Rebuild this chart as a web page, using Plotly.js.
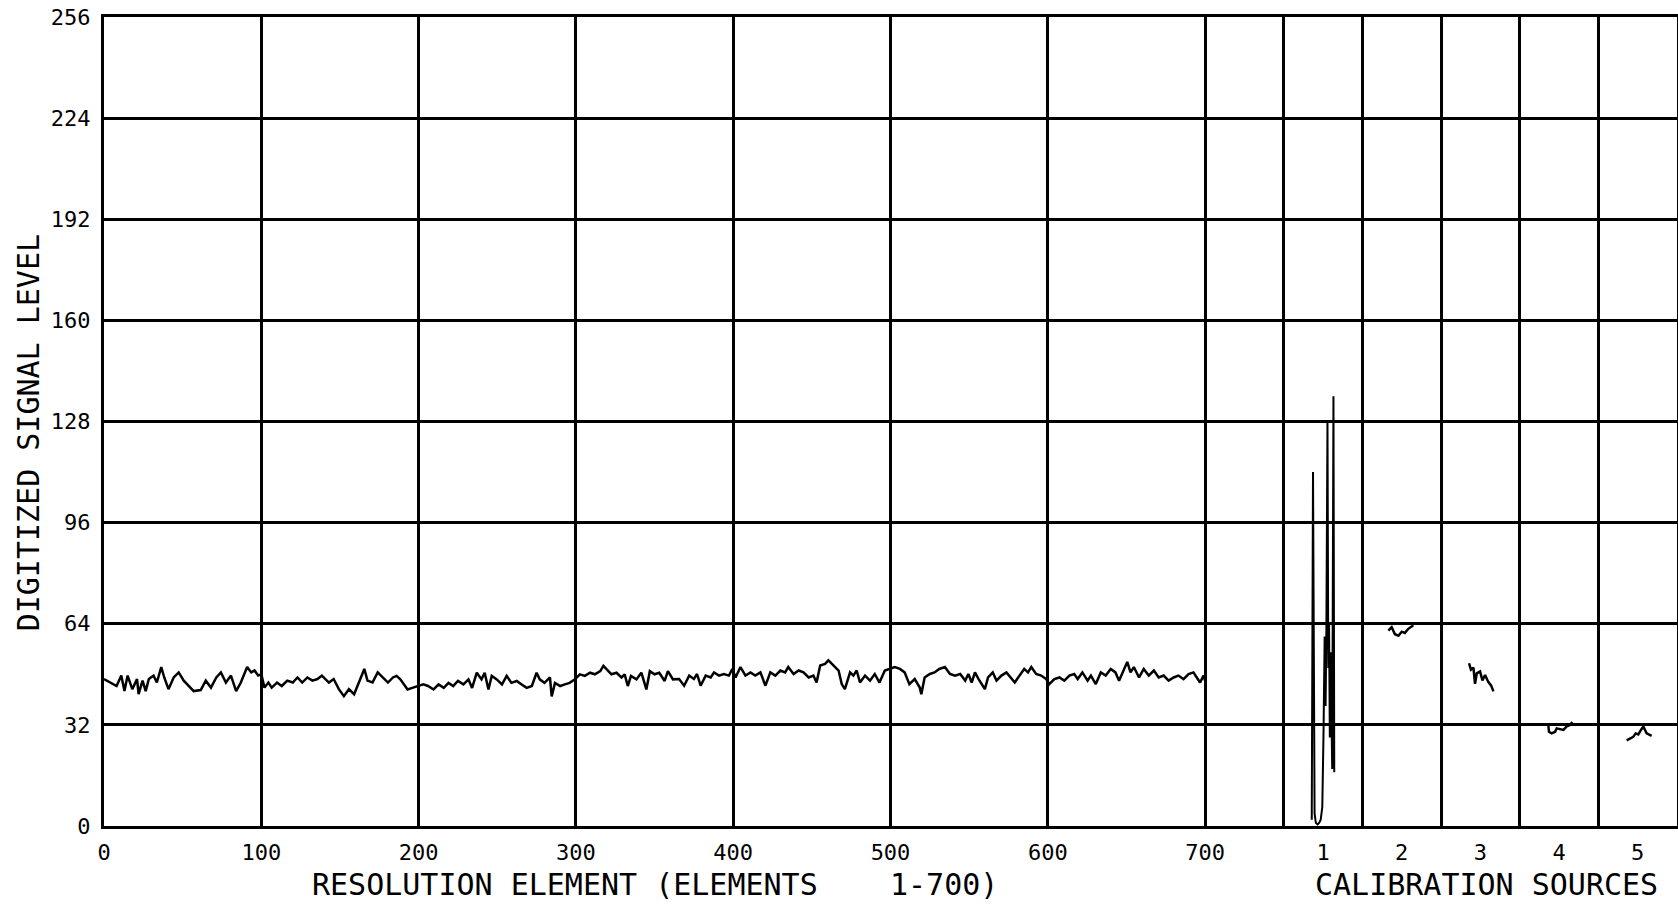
<!DOCTYPE html>
<html>
<head>
<meta charset="utf-8">
<script src="https://cdn.plot.ly/plotly-3.0.1.min.js"></script>
<style>html,body{margin:0;padding:0;background:#fff;}#chart{width:1678px;height:906px;}</style>
</head>
<body>
<div id="chart"></div>
<script>
// ---- data ----
const elementX = [0,3.6,8,11,13,15,18,21,22,24.5,26.5,28.5,31.5,33.6,36.4,38.3,41,44.3,47.5,50.7,55,57,61.5,64.7,68,71.4,74.3,77.5,80.7,84,87,91,93.6,95.7,98,100,102,104.5,106.6,110,113,116.5,120,123,126,129.3,132.5,135.7,138.5,143,146,149.3,152.5,155.7,159,162,165.5,167.5,170.7,174,177.3,180.5,183.7,
186,188.4,190.5,193,196,200,203,206,209.5,212.7,216,219,222,225,228.5,231.7,234,237,240,242,244.4,246.5,249.7,253,256,259,262.4,265.5,268.7,272,275,277,280,283.5,284.6,286.7,290,293,296,299.4,302.5,305.7,309,312,315.5,317.5,319.5,322.6,325.8,329,331,333,335,338.5,341.6,344.8,347,350,353,356.4,358.5,361.7,
365.6,368.8,372,375,377,379.3,382.5,385.7,387.8,391,394,397.3,399.4,401.5,404.6,407.8,411,414,417.3,420.5,423.6,426.8,430,433,435,438.4,441.6,444.7,448,451,453,455.3,458.4,460.5,463.7,467,469,471,474.3,476.4,478.5,480.6,483.8,487,490,493,496.4,499.6,502.7,506,509,512,515.4,518.6,519.6,521.7,525,528,531,534.6,537.8,541,544.3,547.5,
549.5,551.6,553.7,556,558,560,562,565,567.4,570.5,573.7,576.8,579,582,585,587.4,589.5,592.6,595.8,599,601,604.2,607.4,610.5,613.7,616.8,619,622,625.3,627.4,630.5,633.7,636.8,640,643,645.3,648.4,650.5,652.6,654.7,658,661,664.2,667.4,670.5,673.7,676.8,680,683,686.3,689.5,692.6,694.7,696.8,699,700];
const signalLevel = [46.5,45.4,44.3,47.6,42.7,47.6,43.3,46.5,41.7,46,42.7,46.5,47.6,45.4,50.3,47,43.3,47,48.6,46,43.8,42.7,43,46,43.8,47,48.6,45.4,47.6,42.7,45.4,50.3,48.6,49.2,47.6,48,43.8,45.4,43.8,45.4,44.3,46,45.4,47,45.4,47,46,46.5,47.6,45.4,46.5,43.3,41.1,43.3,41.7,45.4,49.7,46,45.4,48.6,47,45.4,47,
47.5,46.4,44.8,43.2,43.7,44.3,44.8,44.3,43.2,44.8,43.7,45.3,44.3,45.9,44.8,46.4,43.7,48.5,46.4,48.5,43.2,47.5,46.4,44.8,47.5,45.3,45.9,44.8,43.7,44.3,48.5,46.4,45.3,47,41,45.3,44.3,44.8,45.3,46.4,48,47.5,48.5,48,49,50.7,49.6,48,48.5,47,48,44.3,47.5,46.4,48.5,43.2,49,48,48.5,45.9,49,46.4,
46.5,44.4,47.6,46.5,48.1,44.4,47.6,47,48.6,47.6,48.1,47.6,49.7,47,50.3,47.6,48.6,47.6,48.6,44.4,48.6,47.6,49.2,48.6,50.3,48.1,49.2,48.6,47,47.6,45.4,50.8,51.3,52.4,50.8,49.2,44.9,43.3,48.6,47.6,49.2,45.4,47.6,46,48.1,45.4,49.2,49.7,50.3,49.7,48.6,44.9,46.5,43.8,41.7,47,48.1,48.6,49.7,50.3,48.1,47.6,48.1,46,
48.1,45.4,48.6,46.5,44.9,43.3,47,48.6,46,47.6,48.6,46.5,45.4,47.6,49.7,48.6,50.3,48.1,47.6,46.5,44.9,46.5,47,46,47.6,48.1,46.5,48.6,46,47.6,44.9,48.6,47.6,49.7,48.6,46,49.7,51.9,48.6,50.3,47,49.7,47.6,49.2,47,47.6,46,47,47.6,46.5,48.1,48.6,47,45.4,47.6,46];

const source1X = [767.8,768.6,769.6,770.4,771.5,772.5,773.5,774.5,775.3,776.0,776.6,777.1,777.8,778.3,778.8,779.3,779.8,780.3,780.8,781.6,782.1];
const source1Y = [2,112,4,1,0.5,1,2,6,30,60,38,62,128,50,64,28,55,34,18,136,17];
const source2X = [816.5,818.6,820.7,822.9,825,827,829.2,831.3,832.4];
const source2Y = [61.8,62.9,60.7,60.2,61.5,61.1,62.4,63.2,63.5];
const source3X = [867.8,869,870.6,871.6,872.7,874.8,876.3,878,880,881.8,883.3];
const source3Y = [51.5,49.5,50.1,45,48.3,48.9,46.1,47.8,45.6,44.5,42.6];
const source4X = [918.2,918.6,920.3,922.5,923.5,925.6,927.8,929.9,932,933.5];
const source4Y = [32,29.8,29.3,29.8,30.9,30.6,30.4,31.5,32,32.9];
const source5X = [968,970.1,972.2,973.7,975.4,977.1,978.6,980.7,982.8,983.9];
const source5Y = [27.1,27.7,28.2,29.3,29,30.4,31.5,29.3,28.7,28.5];

const xTickVals = [0,100,200,300,400,500,600,700,775,825,875,925,975];
const xTickText = ["0","100","200","300","400","500","600","700","1","2","3","4","5"];
const xGridVals = [100,200,300,400,500,600,700,750,800,850,900,950];
const yTickVals = [0,32,64,96,128,160,192,224,256];

const yTitle = "DIGITIZED SIGNAL LEVEL";
const xTitleMain = "RESOLUTION ELEMENT (ELEMENTS\u00a0\u00a0\u00a0\u00a01-700)";
const xTitleCal = "CALIBRATION SOURCES";

// ---- chart ----
const FONT = "DejaVu Sans Mono, monospace";
const line = {color: "#000", width: 2.5};
const traces = [
  {x: elementX, y: signalLevel, type: "scatter", mode: "lines", line: line, hoverinfo: "skip"},
  {x: source1X, y: source1Y, xaxis: "x2", type: "scatter", mode: "lines", line: {color: "#000", width: 2}, hoverinfo: "skip"},
  {x: source2X, y: source2Y, xaxis: "x2", type: "scatter", mode: "lines", line: line, hoverinfo: "skip"},
  {x: source3X, y: source3Y, xaxis: "x2", type: "scatter", mode: "lines", line: line, hoverinfo: "skip"},
  {x: source4X, y: source4Y, xaxis: "x2", type: "scatter", mode: "lines", line: line, hoverinfo: "skip"},
  {x: source5X, y: source5Y, xaxis: "x2", type: "scatter", mode: "lines", line: line, hoverinfo: "skip"}
];

const layout = {
  width: 1678, height: 906,
  margin: {l: 104, r: 1, t: 17, b: 80},
  paper_bgcolor: "#fff", plot_bgcolor: "#fff",
  showlegend: false,
  font: {family: FONT, color: "#000"},
  xaxis: {
    range: [0, 1000], tickmode: "array", tickvals: xTickVals, ticktext: xTickText,
    showgrid: false, zeroline: false, showline: true, mirror: true,
    linecolor: "#000", linewidth: 3, ticks: "",
    ticklabelstandoff: 5,
    tickfont: {family: FONT, size: 22, color: "#000"}
  },
  xaxis2: {
    overlaying: "x", range: [0, 1000], tickmode: "array", tickvals: xGridVals,
    showticklabels: false, showgrid: true, gridcolor: "#000", gridwidth: 3,
    zeroline: false, showline: false, ticks: "", side: "bottom"
  },
  yaxis: {
    range: [0, 256], tickmode: "array", tickvals: yTickVals,
    showgrid: true, gridcolor: "#000", gridwidth: 3,
    zeroline: false, showline: true, mirror: true,
    linecolor: "#000", linewidth: 3, ticks: "",
    ticklabelstandoff: 6,
    tickfont: {family: FONT, size: 22, color: "#000"}
  },
  annotations: [
    {text: yTitle, xref: "paper", yref: "paper", x: -0.048, y: 0.486, textangle: -90,
     showarrow: false, xanchor: "center", yanchor: "middle", font: {family: FONT, size: 30, color: "#000"}},
    {text: xTitleMain, xref: "x", yref: "paper", x: 350, y: -0.072,
     showarrow: false, xanchor: "center", yanchor: "middle", font: {family: FONT, size: 30, color: "#000"}},
    {text: xTitleCal, xref: "x", yref: "paper", x: 879, y: -0.072,
     showarrow: false, xanchor: "center", yanchor: "middle", font: {family: FONT, size: 30, color: "#000"}}
  ]
};

Plotly.newPlot("chart", traces, layout, {staticPlot: true, displayModeBar: false});
</script>
</body>
</html>
